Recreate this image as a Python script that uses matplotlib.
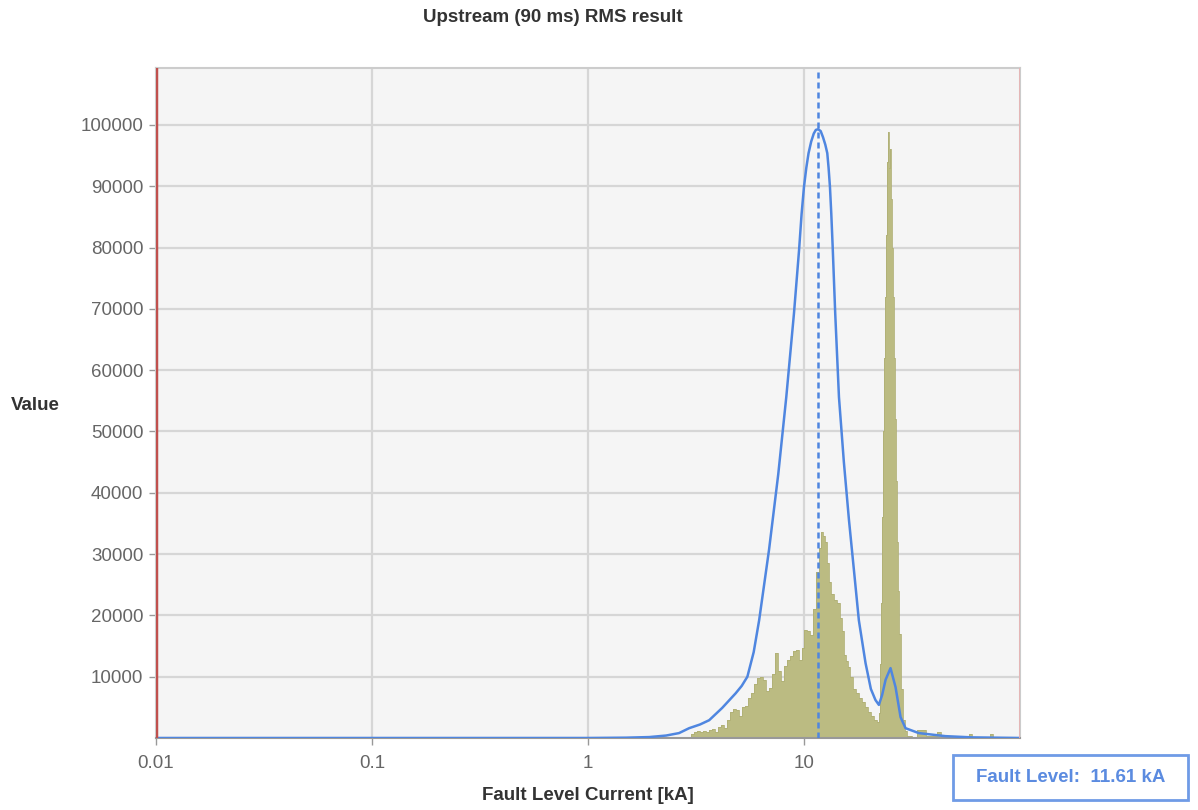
import matplotlib
matplotlib.use("Agg")
import matplotlib.pyplot as plt
from matplotlib.patches import Rectangle
from matplotlib.ticker import FixedLocator, NullLocator

plt.rcParams["font.family"] = ["Liberation Sans", "DejaVu Sans"]

# fitted distribution curve (blue)
curve_ka = [0.01, 1.0, 1.5, 1.92, 2.3, 2.64, 2.94, 3.3, 3.64, 4.18, 4.83, 5.15,
            5.47, 5.85, 6.20, 6.89, 7.6, 8.28, 8.99, 9.49, 9.75, 10.0, 10.25,
            10.5, 10.8, 11.1, 11.35, 11.64, 11.95, 12.25, 12.55, 12.82, 13.0,
            13.19, 13.38, 13.58, 13.95, 14.52, 15.3, 16.15, 17.03, 17.95, 19.28,
            20.4, 21.42, 22.22, 23.0, 23.87, 25.16, 26.54, 28.0, 29.52, 34.0,
            45.2, 60.0, 100.0]
curve_val = [0, 0, 50, 150, 400, 800, 1600, 2200, 2900, 4900, 7300, 8500,
             10000, 14000, 19200, 30700, 43000, 55600, 69300, 79600, 85500,
             89900, 93000, 95400, 97300, 98600, 99200, 99300, 99000, 98000,
             96800, 95400, 93000, 89900, 85500, 80100, 69300, 55600, 45000,
             35600, 27400, 19200, 12200, 8000, 6200, 5400, 7000, 9500, 11400,
             8300, 3400, 1600, 800, 300, 100, 0]

# simulated fault level histogram (olive)
hist_ka = [2.94, 3.035, 3.134, 3.236, 3.341, 3.449, 3.561, 3.677, 3.797, 3.920,
           4.048, 4.179, 4.315, 4.455, 4.600, 4.750, 4.904, 5.064, 5.228, 5.398,
           5.574, 5.755, 5.942, 6.135, 6.335, 6.541, 6.753, 6.973, 7.199, 7.433,
           7.675, 7.925, 8.182, 8.448, 8.723, 9.006, 9.299, 9.601, 9.894, 10.215,
           10.547, 10.890, 11.244, 11.610, 11.859, 12.114, 12.374, 12.640,
           12.912, 13.189, 13.618, 14.061, 14.518, 14.830, 15.149, 15.474,
           15.807, 16.147, 16.672, 17.214, 17.773, 18.351, 18.947, 19.563,
           20.199, 20.855, 21.533, 22.233, 22.46, 22.70, 22.94, 23.19, 23.44,
           23.69, 23.94, 24.19, 24.45, 24.72, 24.98, 25.25, 25.51, 25.79, 26.06,
           26.34, 26.62, 26.90, 27.19, 27.48, 27.78, 28.38, 29.0, 29.62, 30.55,
           32.5, 34.2, 35.6, 37.8, 40.5, 42.1, 44.0, 46.8, 57.5, 59.2, 61.0,
           72.0, 74.0, 76.0, 84.1]
hist_val = [0, 600, 1000, 1100, 1000, 1200, 900, 1300, 1500, 900,
            1800, 2200, 1600, 3000, 4300, 4800, 4500, 3600, 5000, 5300,
            6500, 7400, 8800, 9800, 9900, 9500, 7600, 8200, 10500, 13900,
            11000, 9300, 11800, 12800, 13400, 14200, 14400, 12800, 14600, 17600,
            17400, 16800, 21000, 27000, 31000, 33600, 33000, 32000,
            28500, 25500, 23500, 22500, 22000, 19500, 17500, 13500,
            12500, 11600, 10000, 8000, 7400, 6600, 5800, 5000,
            4300, 3600, 3000, 2600, 4000, 12000, 22000, 36000, 50000,
            62000, 72000, 82000, 94000, 98800, 93000, 96000, 88000, 80000, 72000,
            62000, 52000, 42000, 32000, 24000, 17000, 8000, 3000, 1200, 300,
            200, 1300, 1300, 300, 300, 1000, 300, 300, 200, 600, 200,
            200, 700, 200, 0]

fault_level = 11.61
y_ticks = [10000, 20000, 30000, 40000, 50000, 60000, 70000, 80000, 90000, 100000]
x_ticks = [0.01, 0.1, 1, 10]
x_tick_labels = ["0.01", "0.1", "1", "10"]

BLUE = "#4f86e0"
OLIVE = "#bbbb82"
GRID = "#d6d6d6"

fig = plt.figure(figsize=(11.98, 8.10), dpi=100)
ax = fig.add_axes([0.1302, 0.0889, 0.7212, 0.8272])
ax.set_facecolor("#f5f5f5")

ax.set_xscale("log")
ax.set_xlim(0.01, 100)
ax.set_ylim(0, 109300)

for y in y_ticks:
    ax.axhline(y, color=GRID, lw=1.6, zorder=1)
for x in x_ticks[1:]:
    ax.axvline(x, color=GRID, lw=1.6, zorder=1)

ax.fill_between(hist_ka, hist_val, 0, step="mid", color=OLIVE, lw=0, zorder=2)
ax.step(hist_ka, hist_val, where="mid", color="#b0b076", lw=0.6, zorder=2)

ax.plot(curve_ka, curve_val, color=BLUE, lw=1.8, zorder=4)
ax.axvline(fault_level, color=BLUE, lw=1.8, ls=(0, (2.4, 1.6)), zorder=4)

# range markers at the plot edges
ax.axvline(0.01, color="#c0504d", lw=2.5, zorder=5)
ax.axvline(100, color="#e8b4b4", lw=2, zorder=5)

ax.xaxis.set_major_locator(FixedLocator(x_ticks))
ax.set_xticklabels(x_tick_labels)
ax.xaxis.set_minor_locator(NullLocator())
ax.set_yticks(y_ticks)
ax.set_yticklabels([str(v) for v in y_ticks])
ax.tick_params(axis="both", labelsize=13.5, labelcolor="#666666",
               color="#999999", length=5, width=1)
ax.tick_params(axis="y", pad=4)
ax.tick_params(axis="x", pad=7)

for side in ["top", "right", "left"]:
    ax.spines[side].set_color("#cccccc")
    ax.spines[side].set_linewidth(1.5)
ax.spines["bottom"].set_color("#999999")
ax.spines["bottom"].set_linewidth(1.5)

fig.text(0.4616, 0.978, "Upstream (90 ms) RMS result", ha="center", va="center",
         fontsize=13.5, fontweight="bold", color="#333333")
fig.text(0.0296, 0.5, "Value", ha="center", va="center",
         fontsize=13.5, fontweight="bold", color="#333333")
fig.text(0.491, 0.018, "Fault Level Current [kA]", ha="center", va="center",
         fontsize=13.5, fontweight="bold", color="#333333")

fig.patches.append(Rectangle((0.7955, 0.0123), 0.1962, 0.0556,
                             transform=fig.transFigure, fill=False,
                             edgecolor="#6f9be6", lw=2))
fig.text(0.8936, 0.0407, "Fault Level:  11.61 kA", ha="center", va="center",
         fontsize=13.5, fontweight="bold", color="#5b8be0")

fig.savefig("out.png", dpi=100)
